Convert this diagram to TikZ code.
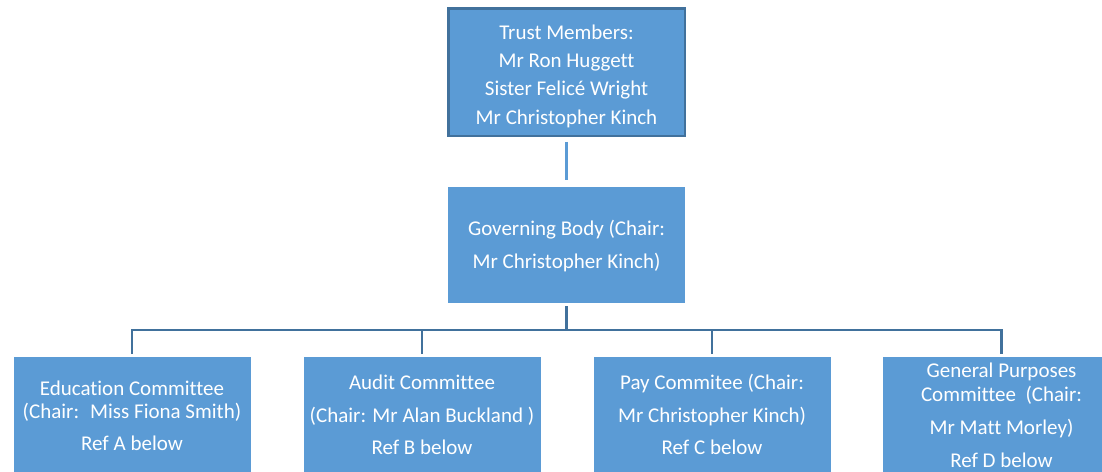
\documentclass[tikz,border=0pt]{standalone}
\usepackage{fontspec}
\setmainfont{Carlito}[Ligatures={NoCommon}]
\definecolor{boxblue}{HTML}{5B9BD5}
\definecolor{edgeblue}{HTML}{41719C}
\begin{document}
\begin{tikzpicture}[x=1pt,y=-1pt,
  box/.style={fill=boxblue, draw=none, inner sep=0pt, outer sep=0pt, minimum width=237pt},
  lbl/.style={text=white, align=center, font=\fontsize{21}{23}\selectfont, inner sep=0pt, anchor=base},
  conn/.style={draw=edgeblue, line width=2.6pt, line join=miter}]
\useasboundingbox (0,0) rectangle (1102,471);
\clip (0,0) rectangle (1102,471);
% boxes
\node[box, draw=edgeblue, line width=2.5pt, minimum width=236.5pt, minimum height=127.5pt] (trust) at (566.5,72) {};
\node[box, minimum height=116pt] (gov) at (566.5,245) {};
\node[box, minimum height=140pt] (edu) at (132,427) {};
\node[box, minimum height=140pt] (aud) at (422,427) {};
\node[box, minimum height=140pt] (pay) at (712,427) {};
\node[box, minimum height=140pt] (gp)  at (1001.5,427) {};
% labels (anchored at the baseline of their last line)
\node[lbl] (trustT) at (566.5,124) {Trust Members:\\[5.3pt]Mr Ron Huggett\\[5.3pt]Sister Felicé Wright\\[5.3pt]Mr Christopher Kinch};
\node[lbl] (govT) at (566.5,268) {Governing Body (Chair:\\[10pt]Mr Christopher Kinch)};
\node[lbl] (eduT) at (132,450) {Education Committee\\(Chair:~ Miss Fiona Smith)\\[9pt]Ref A below};
\node[lbl] (audT) at (422,454) {Audit Committee\\[10pt](Chair: Mr Alan Buckland~)\\[9pt]Ref B below};
\node[lbl] (payT) at (712,454) {Pay Commitee (Chair:\\[10pt]Mr Christopher Kinch)\\[9pt]Ref C below};
\node[lbl] (gpT) at (1001.5,467) {General Purposes\\[1pt]Committee~ (Chair:\\[10pt]Mr Matt Morley)\\[10pt]Ref D below};
% connectors
\coordinate (bus) at (566.5,330);
\draw[draw=boxblue, line width=3pt, shorten <=6pt, shorten >=7pt] (trust.south) -- (gov.north);
\draw[conn, shorten <=3pt] (gov.south) -- (bus);
\draw[conn] ([yshift=3pt]edu.north) |- (bus) -| ([yshift=3pt]gp.north);
\draw[conn] ([yshift=3pt]aud.north) -- (aud.north |- bus);
\draw[conn] ([yshift=3pt]pay.north) -- (pay.north |- bus);
\end{tikzpicture}
\end{document}
